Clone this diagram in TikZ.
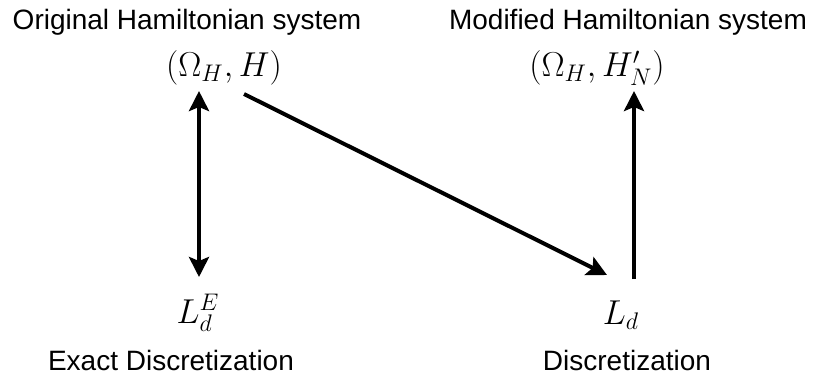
\documentclass[tikz,border=0pt]{standalone}
\usepackage{fontspec}
\setsansfont{Liberation Sans}
\usetikzlibrary{arrows.meta}
\begin{document}
\begin{tikzpicture}[x=0.5pt,y=-0.5pt,
  lbl/.style={font=\sffamily\fontsize{14}{16}\selectfont, inner sep=0pt},
  mth/.style={font=\fontsize{18.5}{21}\selectfont, inner sep=0pt},
  arr/.style={line width=2pt, -{Stealth[length=10pt,width=10pt,inset=2pt]}},
  darr/.style={line width=2pt, {Stealth[length=10pt,width=10pt,inset=2pt]}-{Stealth[length=10pt,width=10pt,inset=2pt]}}]
\useasboundingbox (0,0) rectangle (818,376);
\node[lbl] (t1) at (187,22) {Original Hamiltonian system};
\node[lbl] (t2) at (628,22) {Modified Hamiltonian system};
\node[mth] (a) at (224,68) {$(\Omega_H, H)$};
\node[mth] (b) at (597,68) {$(\Omega_H, H'_N)$};
\node[mth] (c) at (198,313) {$L_d^E$};
\node[mth] (d) at (621,315) {$L_d$};
\node[lbl] (t3) at (171,360) {Exact Discretization};
\node[lbl] (t4) at (627,360) {Discretization};
\coordinate (l1) at (199,91);
\coordinate (l2) at (199,277);
\coordinate (r1) at (634,279);
\coordinate (r2) at (634,91);
\coordinate (g1) at (244,94);
\coordinate (g2) at (607,275);
\draw[darr] (l2) -- (l1);
\draw[arr] (r1) -- (r2);
\draw[arr] (g1) -- (g2);
\end{tikzpicture}
\end{document}
